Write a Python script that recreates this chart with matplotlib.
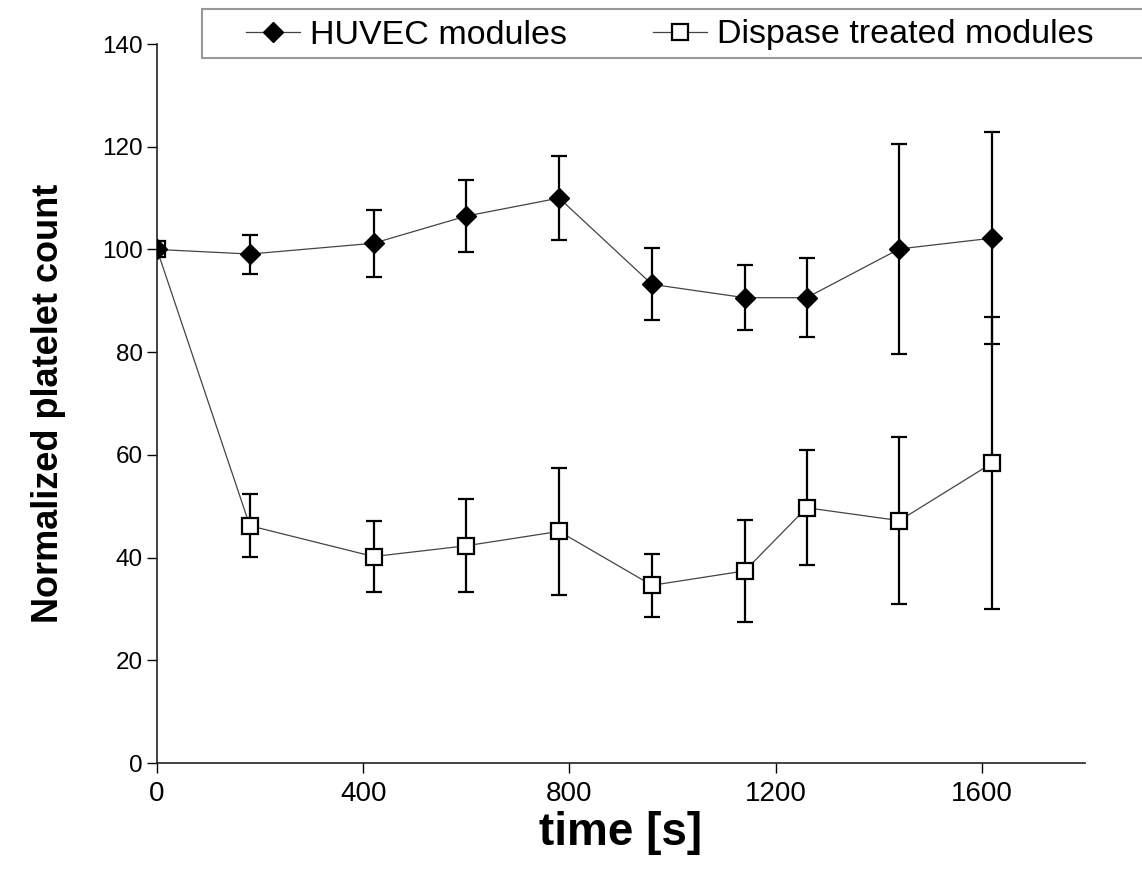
import matplotlib
matplotlib.use('Agg')
import matplotlib.pyplot as plt
from matplotlib.patches import Rectangle
import numpy as np

plt.rcParams['font.family'] = ['Liberation Sans', 'DejaVu Sans']

time_s = [0, 180, 420, 600, 780, 960, 1140, 1260, 1440, 1620]
huvec = [100, 99.1, 101.2, 106.5, 110, 93.2, 90.6, 90.6, 100.1, 102.2]
huvec_err = [0, 3.8, 6.5, 7.0, 8.1, 7.0, 6.3, 7.7, 20.5, 20.6]
dispase = [100, 46.2, 40.2, 42.3, 45.1, 34.6, 37.4, 49.7, 47.2, 58.4]
dispase_err = [0, 6.1, 7.0, 9.1, 12.3, 6.1, 10.0, 11.2, 16.2, 28.5]

fig = plt.figure(figsize=(11.42, 8.71), dpi=100)
ax = fig.add_axes([157/1142, 1-763/871, (1085-157)/1142, (763-44)/871])

# dispase first so the diamond at t=0 sits on top of the square
ax.errorbar(time_s, dispase, yerr=dispase_err, fmt='none', ecolor='black',
            elinewidth=1.6, capsize=5.5, capthick=1.6, zorder=2)
ax.plot(time_s, dispase, color='#444444', lw=0.9, marker='s', markersize=12,
        markerfacecolor='white', markeredgecolor='black', markeredgewidth=1.6,
        label='Dispase treated modules', zorder=3)

ax.errorbar(time_s, huvec, yerr=huvec_err, fmt='none', ecolor='black',
            elinewidth=1.6, capsize=5.5, capthick=1.6, zorder=4)
ax.plot(time_s, huvec, color='#444444', lw=0.9, marker='D', markersize=10,
        markerfacecolor='black', markeredgecolor='black',
        label='HUVEC modules', zorder=5)

ax.set_xlim(0, 1800)
ax.set_ylim(0, 140)
ax.set_xticks([0, 400, 800, 1200, 1600])
ax.set_yticks(np.arange(0, 141, 20))
ax.spines['top'].set_visible(False)
ax.spines['right'].set_visible(False)
for s in ['left', 'bottom']:
    ax.spines[s].set_linewidth(1.2)
    ax.spines[s].set_color('#222222')
ax.tick_params(axis='x', direction='out', length=7, width=1, labelsize=20, pad=6)
ax.tick_params(axis='y', direction='out', length=7, width=1, labelsize=17.5, pad=3)
ax.set_xlabel('time [s]', fontsize=33, fontweight='bold', labelpad=3)
ax.set_ylabel('Normalized platelet count', fontsize=26, fontweight='bold', labelpad=26)

# legend frame sticks out past the right edge in the original
fig.patches.append(Rectangle((202/1142, 1-58/871), 1.0, 49/871, transform=fig.transFigure,
                             facecolor='white', edgecolor='#999999', lw=1.5))
handles, labels = ax.get_legend_handles_labels()
fig.legend(handles[::-1], labels[::-1], loc='center left',
           bbox_to_anchor=(222/1142, 1-35/871), ncol=2, frameon=False,
           fontsize=24.5, handlelength=1.6, handletextpad=0.3, columnspacing=2.5,
           borderpad=0.2)

fig.savefig('out.png', dpi=100)
